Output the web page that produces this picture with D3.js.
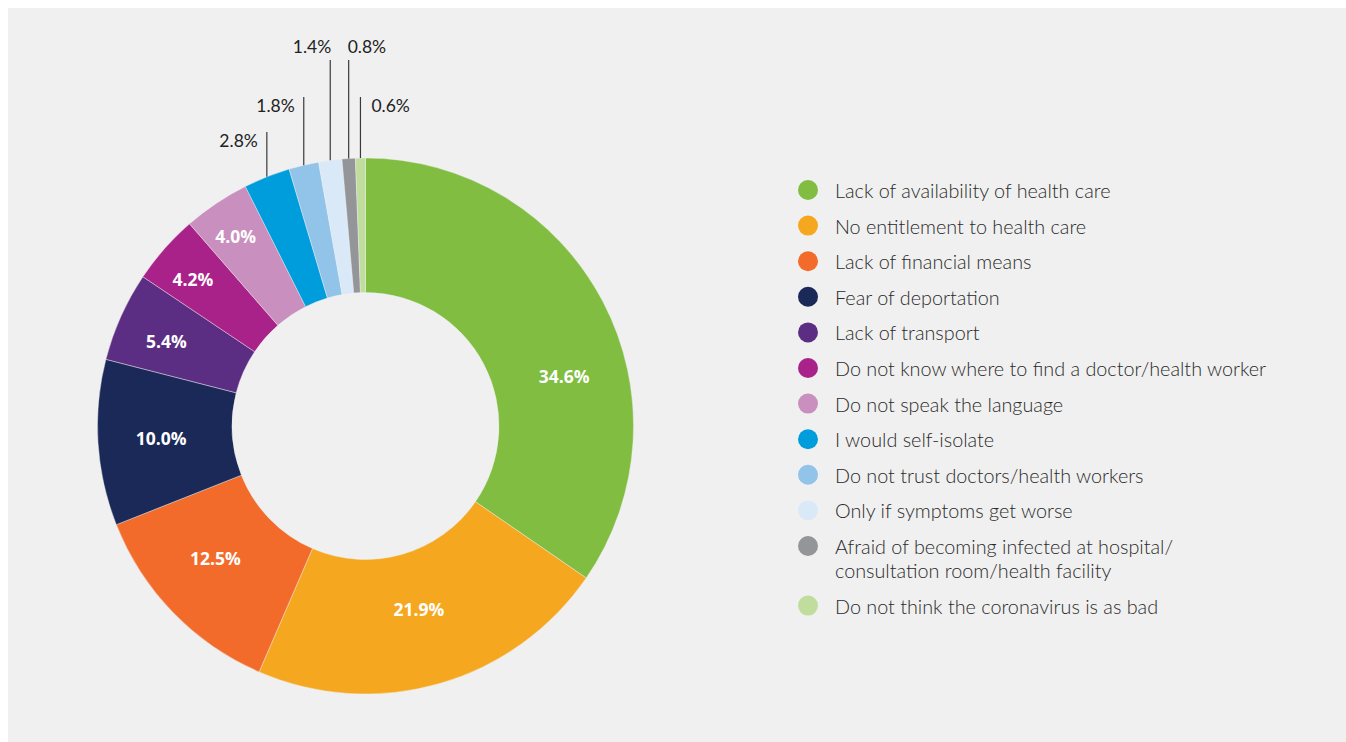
<!DOCTYPE html>
<html>
<head>
<meta charset="utf-8">
<script src="https://cdn.jsdelivr.net/npm/d3@7"></script>
<style>
  html, body { margin: 0; padding: 0; background: #ffffff; }
  svg { display: block; }
</style>
</head>
<body>
<svg id="chart" width="1346" height="742"></svg>
<script>
// ---- Data ----
const categories = [
  "Lack of availability of health care",
  "No entitlement to health care",
  "Lack of financial means",
  "Fear of deportation",
  "Lack of transport",
  "Do not know where to find a doctor/health worker",
  "Do not speak the language",
  "I would self-isolate",
  "Do not trust doctors/health workers",
  "Only if symptoms get worse",
  "Afraid of becoming infected at hospital/\nconsultation room/health facility",
  "Do not think the coronavirus is as bad"
];
const values = [34.6, 21.9, 12.5, 10.0, 5.4, 4.2, 4.0, 2.8, 1.8, 1.4, 0.8, 0.6];
const colors = [
  "#80bd41", "#f5a81f", "#f26b2b", "#1a2957", "#5b2d83", "#a8228a",
  "#c98fbe", "#009ddc", "#92c3e9", "#d9e9f8", "#939598", "#c1dd9d"
];
const valueLabels = values.map(v => v.toFixed(1) + "%");

// ---- Layout ----
const W = 1346, H = 742;
const cx = 365.5, cy = 426, R = 268, r = 133.5;
const smallThreshold = 3;
// offsets of inside labels from the arc centroid (layout only)
const insideOffsets = [[21, 43], [-2, -10], [-6, -8], [-4, -1], [-16, -3], [-22, -14], [-18, -23]];
// leader label layout for small slices: line top y, anchor, text dx, baseline y
const leaderLayout = [
  { top: 132, anchor: "end",   dx: -9,  ty: 147 },
  { top: 97,  anchor: "end",   dx: -9,  ty: 111.5 },
  { top: 60,  anchor: "end",   dx: 1,   ty: 52.5 },
  { top: 60,  anchor: "start", dx: -1,  ty: 52.5 },
  { top: 97,  anchor: "start", dx: 11,  ty: 111.5 }
];

const svg = d3.select("#chart");
svg.append("rect").attr("x", 8).attr("y", 8).attr("width", W - 8).attr("height", H - 8).attr("fill", "#f0f0f0");

const pie = d3.pie().sort(null).value(d => d);
const arcs = pie(values);
const arc = d3.arc().innerRadius(r).outerRadius(R);
const midArc = d3.arc().innerRadius((r + R) / 2).outerRadius((r + R) / 2);

const g = svg.append("g").attr("transform", `translate(${cx},${cy})`);
g.selectAll("path.slice").data(arcs).enter().append("path")
  .attr("class", "slice")
  .attr("d", arc)
  .attr("fill", (d, i) => colors[i])
  .attr("stroke", "#f0f0f0")
  .attr("stroke-width", 0.6)
  .attr("stroke-opacity", 0.7);

// inside labels
const big = arcs.map((d, i) => ({ d, i })).filter(o => values[o.i] >= smallThreshold);
g.selectAll("text.inside").data(big).enter().append("text")
  .attr("class", "inside")
  .attr("x", o => midArc.centroid(o.d)[0] + insideOffsets[o.i][0])
  .attr("y", o => midArc.centroid(o.d)[1] + insideOffsets[o.i][1])
  .attr("text-anchor", "middle")
  .attr("dominant-baseline", "central")
  .attr("fill", "#ffffff")
  .attr("font-family", "'Open Sans', sans-serif")
  .attr("font-weight", 700)
  .attr("font-size", "17.5px")
  .text(o => valueLabels[o.i]);

// leader labels for small slices
const small = arcs.map((d, i) => ({ d, i })).filter(o => values[o.i] < smallThreshold);
small.forEach((o, k) => {
  const a = (o.d.startAngle + o.d.endAngle) / 2;
  const x = cx + R * Math.sin(a);
  const yb = cy - R * Math.cos(a);
  const L = leaderLayout[k];
  svg.append("line")
    .attr("x1", x).attr("x2", x)
    .attr("y1", L.top).attr("y2", yb)
    .attr("stroke", "#3a3a3a").attr("stroke-width", 1.2);
  svg.append("text")
    .attr("x", x + L.dx).attr("y", L.ty)
    .attr("text-anchor", L.anchor)
    .attr("fill", "#222")
    .attr("font-family", "Lato, sans-serif")
    .attr("font-size", "17.5px")
    .text(valueLabels[o.i]);
});

// legend
const legendX = 808, legendTextX = 835, legendY0 = 190, rowH = 35.6, lineH = 24;
let y = legendY0;
const lg = svg.append("g");
categories.forEach((c, i) => {
  const lines = c.split("\n");
  lg.append("circle").attr("cx", legendX).attr("cy", y).attr("r", 10).attr("fill", colors[i]);
  const t = lg.append("text")
    .attr("x", legendTextX).attr("y", y)
    .attr("dominant-baseline", "central")
    .attr("fill", "#2a2a2a")
    .attr("font-family", "Lato, sans-serif")
    .attr("font-weight", 300)
    .attr("font-size", "19.8px");
  lines.forEach((ln, j) => {
    t.append("tspan").attr("x", legendTextX).attr("y", y + j * lineH).text(ln);
  });
  y += rowH + (lines.length - 1) * lineH;
});
</script>
</body>
</html>
